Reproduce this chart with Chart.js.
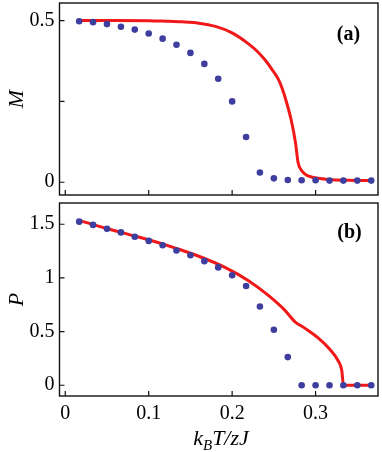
<!DOCTYPE html>
<html>
<head>
<meta charset="utf-8">
<script src="https://cdn.jsdelivr.net/npm/chart.js@4/dist/chart.umd.min.js"></script>
<style>
  html, body { margin:0; padding:0; background:#fff; }
  body { width:382px; height:452px; position:relative; overflow:hidden; font-family:"Liberation Serif", "DejaVu Serif", serif; }
  .panel { position:absolute; left:0; width:382px; }
  #top { top:-1px; height:200px; }
  #bot { top:199px; height:253px; }
  #xt { position:absolute; left:0; width:442px; top:425px; text-align:center; font-size:22px; font-style:italic; color:#000; }
  #xt sub { font-size:15px; vertical-align:-5px; line-height:0; }
</style>
</head>
<body>
<div class="panel" id="top"><canvas id="chart-m"></canvas></div>
<div class="panel" id="bot"><canvas id="chart-p"></canvas></div>
<div id="xt">k<sub>B</sub>T/zJ</div>
<script>
// temperature k_B T / zJ of the dots (same for both panels)
const T_DOTS = [0.0167, 0.0333, 0.05, 0.0667, 0.0833, 0.1, 0.1167, 0.1333, 0.15, 0.1667, 0.1833,
                0.2, 0.2167, 0.2333, 0.25, 0.2667, 0.2833, 0.3, 0.3167, 0.3333, 0.35, 0.3667];
const M_DOTS = [0.498, 0.495, 0.489, 0.481, 0.472, 0.460, 0.444, 0.425, 0.400, 0.366, 0.320,
                0.250, 0.140, 0.030, 0.012, 0.007, 0.006, 0.006, 0.005, 0.005, 0.005, 0.005];
const P_DOTS = [1.524, 1.494, 1.457, 1.424, 1.384, 1.345, 1.305, 1.256, 1.211, 1.156, 1.098,
                1.025, 0.925, 0.733, 0.517, 0.262, 0, 0, 0, 0, 0, 0];

// red curves
const M_LINE_T = [0.0167, 0.06, 0.10, 0.12, 0.14, 0.16, 0.18, 0.20, 0.2196, 0.23, 0.2395, 0.2475, 0.2553,
                  0.26, 0.265, 0.271, 0.276, 0.279, 0.283, 0.287, 0.291, 0.303, 0.32, 0.34, 0.3667];
const M_LINE   = [0.5, 0.5, 0.4995, 0.498, 0.496, 0.492, 0.482, 0.462, 0.428, 0.405, 0.378, 0.35, 0.319,
                  0.29, 0.249, 0.190, 0.121, 0.061, 0.037, 0.026, 0.020, 0.012, 0.008, 0.006, 0.005];
const P_LINE_T = [0.0167, 0.05, 0.0833, 0.1, 0.133, 0.16, 0.192, 0.2196, 0.2434, 0.263, 0.275, 0.287,
                  0.303, 0.317, 0.327, 0.3314, 0.3334, 0.35, 0.3667];
const P_LINE   = [1.536, 1.46, 1.39, 1.355, 1.275, 1.202, 1.096, 0.974, 0.837, 0.700, 0.593, 0.532,
                  0.441, 0.335, 0.228, 0.137, 0, 0, 0];

const X_TICKS   = [0, 0.1, 0.2, 0.3];
const M_TICKS   = [0, 0.25, 0.5];
const M_LABELED = [0, 0.5];
const P_TICKS   = [0, 0.5, 1, 1.5];

const RED  = '#f01818';
const BLUE = '#3e3e9e';
const SERIF = '"Liberation Serif", "DejaVu Serif", serif';
const FONT = { family: SERIF, size: 20 };

const pts = (xs, ys) => xs.map((x, i) => ({ x, y: ys[i] }));

// Mathematica-like frame: box + inward ticks on left and bottom, panel tag in the corner
const framePlugin = {
  id: 'frame',
  afterDatasetsDraw(chart, args, opts) {
    const { ctx, chartArea: a, scales } = chart;
    ctx.save();
    ctx.strokeStyle = '#111';
    ctx.lineWidth = 1.4;
    ctx.strokeRect(a.left, a.top, a.right - a.left, a.bottom - a.top);
    ctx.lineWidth = 1.2;
    ctx.beginPath();
    scales.x.ticks.forEach(t => {
      const px = scales.x.getPixelForValue(t.value);
      ctx.moveTo(px, a.bottom); ctx.lineTo(px, a.bottom - 5);
    });
    scales.y.ticks.forEach(t => {
      const py = scales.y.getPixelForValue(t.value);
      ctx.moveTo(a.left, py); ctx.lineTo(a.left + 5, py);
    });
    ctx.stroke();
    ctx.fillStyle = '#000';
    ctx.font = 'bold 20px ' + SERIF;
    ctx.textAlign = 'center';
    ctx.textBaseline = 'middle';
    ctx.fillText(opts.tag, a.right - opts.dx, a.top + opts.dy);
    ctx.restore();
  }
};

function noPad(s) { s.paddingTop = s.paddingBottom = s.paddingLeft = s.paddingRight = 0; }

function makePanel(id, cfg) {
  return new Chart(document.getElementById(id), {
    type: 'line',
    data: {
      datasets: [
        { data: pts(T_DOTS, cfg.dots), showLine: false, pointRadius: 3.3, pointBackgroundColor: BLUE,
          pointBorderWidth: 0, order: 0 },
        { data: pts(cfg.lineT, cfg.line), borderColor: RED, borderWidth: 3, pointRadius: 0,
          cubicInterpolationMode: 'monotone', order: 1 }
      ]
    },
    options: {
      responsive: true, maintainAspectRatio: false, animation: false, devicePixelRatio: 1,
      layout: { padding: { left: 0, right: 1.5, top: 0, bottom: 0 } },
      plugins: { legend: { display: false }, tooltip: { enabled: false }, frame: cfg.tag },
      scales: {
        x: {
          type: 'linear', min: -0.0069, max: 0.3748,
          grid: { display: false, drawTicks: false }, border: { display: false },
          ticks: { display: cfg.xLabels, color: '#000', font: FONT, padding: 6, maxRotation: 0,
                   callback: v => String(v) },
          afterBuildTicks: s => { s.ticks = X_TICKS.map(v => ({ value: v })); },
          afterFit: s => { s.height = cfg.xHeight; noPad(s); }
        },
        y: {
          type: 'linear', min: cfg.yMin, max: cfg.yMax,
          grid: { display: false, drawTicks: false }, border: { display: false },
          ticks: { color: '#000', font: FONT, padding: 5,
                   callback: v => cfg.yLabeled.includes(v) ? String(v) : '' },
          afterBuildTicks: s => { s.ticks = cfg.yTicks.map(v => ({ value: v })); },
          title: { display: true, text: cfg.yTitle, color: '#000', padding: { top: 4, bottom: 0 },
                   font: { family: SERIF, size: 22, style: 'italic' } },
          afterFit: s => { s.width = 59.5; noPad(s); }
        }
      }
    },
    plugins: [framePlugin]
  });
}

makePanel('chart-m', {
  dots: M_DOTS, lineT: M_LINE_T, line: M_LINE,
  yMin: -0.0395, yMax: 0.5543, yTicks: M_TICKS, yLabeled: M_LABELED, yTitle: 'M',
  xLabels: false, xHeight: 0, tag: { tag: '(a)', dx: 29.5, dy: 32 }
});

makePanel('chart-p', {
  dots: P_DOTS, lineT: P_LINE_T, line: P_LINE,
  yMin: -0.1004, yMax: 1.698, yTicks: P_TICKS, yLabeled: P_TICKS, yTitle: 'P',
  xLabels: true, xHeight: 56, tag: { tag: '(b)', dx: 28.5, dy: 30 }
});
</script>
</body>
</html>
